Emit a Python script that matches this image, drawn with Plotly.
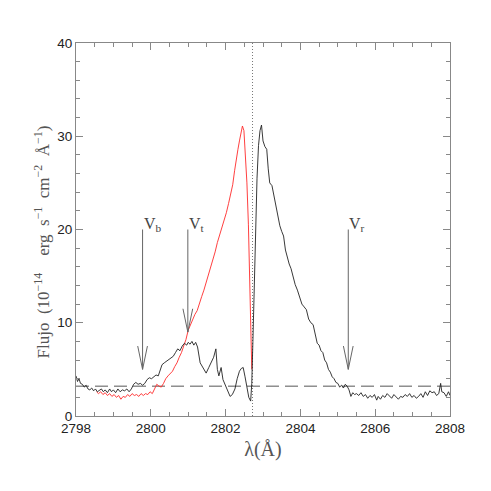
'''
    Perfil de la linea de Mg II con el ala azul reflejada (rojo)
    y las velocidades Vb, Vt, Vr marcadas con flechas.
'''
import plotly.graph_objects as go

# Espectro observado (negro)
obs_wave = [
    2798.00, 2798.04, 2798.08, 2798.12, 2798.17, 2798.22, 2798.27, 2798.32, 2798.37, 2798.42,
    2798.47, 2798.52, 2798.57, 2798.62, 2798.68, 2798.73, 2798.78, 2798.84, 2798.90, 2798.95,
    2799.00, 2799.06, 2799.12, 2799.18, 2799.24, 2799.30, 2799.36, 2799.42, 2799.48, 2799.54,
    2799.60, 2799.66, 2799.72, 2799.78, 2799.84, 2799.90, 2799.96, 2800.02, 2800.08, 2800.14,
    2800.20, 2800.26, 2800.30, 2800.36, 2800.42, 2800.48, 2800.54, 2800.60, 2800.66, 2800.72,
    2800.78, 2800.84, 2800.90, 2800.96, 2801.00, 2801.05, 2801.10, 2801.15, 2801.20, 2801.25,
    2801.32, 2801.40, 2801.48, 2801.55, 2801.62, 2801.68, 2801.74, 2801.78, 2801.82, 2801.88,
    2801.93, 2802.00, 2802.06, 2802.12, 2802.18, 2802.25, 2802.31, 2802.37, 2802.42, 2802.47,
    2802.52, 2802.57, 2802.62, 2802.67, 2802.70, 2802.73, 2802.76, 2802.80, 2802.84, 2802.88,
    2802.92, 2802.96, 2803.00, 2803.05, 2803.10, 2803.14, 2803.18, 2803.24, 2803.30, 2803.35,
    2803.40, 2803.45, 2803.50, 2803.55, 2803.60, 2803.65, 2803.70, 2803.75, 2803.80, 2803.86,
    2803.92, 2803.98, 2804.04, 2804.10, 2804.16, 2804.22, 2804.28, 2804.34, 2804.40, 2804.45,
    2804.50, 2804.55, 2804.60, 2804.65, 2804.70, 2804.75, 2804.80, 2804.85, 2804.90, 2804.95,
    2805.00, 2805.05, 2805.10, 2805.15, 2805.20, 2805.25, 2805.30, 2805.35, 2805.40, 2805.45,
    2805.50, 2805.56, 2805.62, 2805.68, 2805.74, 2805.80, 2805.86, 2805.92, 2805.98, 2806.04,
    2806.08, 2806.14, 2806.20, 2806.26, 2806.32, 2806.38, 2806.44, 2806.50, 2806.56, 2806.62,
    2806.68, 2806.74, 2806.80, 2806.86, 2806.92, 2806.98, 2807.04, 2807.10, 2807.16, 2807.22,
    2807.28, 2807.34, 2807.40, 2807.46, 2807.52, 2807.58, 2807.64, 2807.70, 2807.75, 2807.78,
    2807.84, 2807.90, 2807.96, 2808.00,
]
obs_flux = [
    4.3, 3.7, 4.0, 3.5, 3.4, 3.1, 3.3, 2.9, 2.8, 3.0,
    2.7, 2.9, 2.6, 2.7, 2.9, 2.6, 2.8, 2.5, 2.9, 2.6,
    2.8, 2.5, 2.9, 2.6, 2.8, 2.7, 2.9, 2.6, 2.9, 3.4,
    3.6, 3.4, 3.5, 3.3, 3.5, 3.9, 4.1, 4.0, 4.2, 4.4,
    4.3, 5.0, 5.5, 5.7, 5.9, 6.0, 6.3, 6.4, 6.8, 7.2,
    7.0, 7.5, 7.8, 7.6, 7.9, 7.7, 8.0, 7.6, 7.9, 7.4,
    5.7, 5.2, 4.6, 5.2, 5.9, 6.3, 7.2, 5.0, 4.3, 5.2,
    3.9, 3.2, 2.6, 2.1, 2.3, 2.9, 4.0, 4.8, 5.1, 5.2,
    4.2, 3.0, 2.0, 1.6, 3.5, 8.0, 13.0, 20.0, 25.5, 29.0,
    30.6, 31.2, 29.5, 28.9, 28.6, 26.5, 25.0, 24.7, 23.5, 22.5,
    21.3, 20.4, 19.8, 19.3, 17.8, 17.0, 16.3, 15.8, 15.0, 14.1,
    13.5, 12.8, 12.0, 11.7, 11.4, 10.4, 10.0, 9.8, 8.6, 7.8,
    7.6, 7.0, 6.8, 6.0, 5.7, 5.0, 4.7, 4.2, 4.0, 3.6,
    3.5, 3.1, 3.3, 3.0, 3.4, 3.2, 2.8, 2.1, 2.5, 2.3,
    2.4, 2.2, 2.5, 2.1, 2.3, 1.9, 2.2, 2.0, 2.3, 1.7,
    2.1, 1.8, 2.2, 2.0, 2.4, 2.1, 1.9, 2.3, 2.0, 1.8,
    2.1, 2.0, 2.3, 2.1, 2.4, 2.0, 2.2, 1.9, 2.1, 2.4,
    2.0, 2.6, 2.2, 2.7, 2.5, 2.6, 2.2, 2.4, 3.5, 2.6,
    2.5, 2.1, 2.6, 2.2,
]

# Ala azul reflejada (rojo)
refl_wave = [
    2798.55, 2798.60, 2798.66, 2798.72, 2798.78, 2798.84, 2798.90, 2798.96, 2799.02, 2799.08,
    2799.14, 2799.20, 2799.26, 2799.32, 2799.38, 2799.44, 2799.50, 2799.56, 2799.62, 2799.68,
    2799.74, 2799.80, 2799.86, 2799.92, 2799.98, 2800.04, 2800.10, 2800.16, 2800.22, 2800.28,
    2800.34, 2800.40, 2800.46, 2800.52, 2800.58, 2800.64, 2800.70, 2800.76, 2800.82, 2800.88,
    2800.94, 2801.00, 2801.06, 2801.12, 2801.18, 2801.24, 2801.30, 2801.36, 2801.42, 2801.48,
    2801.54, 2801.60, 2801.66, 2801.72, 2801.78, 2801.84, 2801.90, 2801.96, 2802.02, 2802.08,
    2802.14, 2802.19, 2802.24, 2802.28, 2802.33, 2802.37, 2802.41, 2802.45, 2802.49, 2802.53,
    2802.57, 2802.61, 2802.65, 2802.68, 2802.70,
]
refl_flux = [
    2.6, 2.4, 2.6, 2.3, 2.5, 2.2, 2.4, 2.1, 2.3, 2.0,
    2.2, 1.8, 2.1, 2.0, 2.3, 2.1, 2.4, 2.2, 2.3, 2.1,
    2.4, 2.2, 2.4, 2.3, 2.6, 2.4, 2.9, 3.4, 3.2, 3.1,
    3.5, 4.0, 4.3, 4.5, 4.8, 5.3, 5.7, 6.3, 6.8, 7.5,
    8.2, 9.2, 9.8, 10.3, 10.9, 11.3, 12.2, 12.8, 13.5, 14.3,
    15.2, 15.8, 16.6, 17.6, 18.6, 19.4, 20.1, 20.9, 21.8, 22.8,
    23.8, 24.8, 26.3, 27.5, 28.6, 29.5, 30.5, 31.1, 30.6, 28.3,
    25.0, 20.5, 14.0, 8.0, 5.0,
]

# Velocidades marcadas
arrow_names = ["V<sub>b</sub>", "V<sub>t</sub>", "V<sub>r</sub>"]
arrow_wave = [2799.78, 2800.99, 2805.28]
arrow_top = [20.0, 20.0, 20.0]
arrow_tip = [5.0, 9.0, 5.0]

continuum = 3.2      # nivel del continuo (linea de trazos)
line_center = 2802.72  # centro de la linea (linea de puntos)

x_range = [2798, 2808]
y_range = [0, 40]

SERIF = "Liberation Serif, Times New Roman, serif"
SANS = "Liberation Sans, Arial, sans-serif"
GRAY = "#666666"

fig = go.Figure()

# Continuo y centro de la linea
fig.add_trace(go.Scatter(
    x=x_range, y=[continuum, continuum], mode="lines",
    line=dict(color="#555555", width=1, dash="13px,6px"), hoverinfo="skip"))
fig.add_trace(go.Scatter(
    x=[line_center, line_center], y=y_range, mode="lines",
    line=dict(color="#777777", width=1, dash="1px,2px"), hoverinfo="skip"))

# Espectros
fig.add_trace(go.Scatter(
    x=refl_wave, y=refl_flux, mode="lines",
    line=dict(color="#ff2a2a", width=0.9)))
fig.add_trace(go.Scatter(
    x=obs_wave, y=obs_flux, mode="lines",
    line=dict(color="#222222", width=0.9)))

# Flechas con punta abierta
head_w = 0.13
head_h = 2.5
for name, xa, top, tip in zip(arrow_names, arrow_wave, arrow_top, arrow_tip):
    fig.add_trace(go.Scatter(
        x=[xa, xa, None, xa - head_w, xa, xa + head_w],
        y=[top, tip, None, tip + head_h, tip, tip + head_h],
        mode="lines", line=dict(color=GRAY, width=1), hoverinfo="skip"))
    fig.add_annotation(
        x=xa, y=top, text=name, showarrow=False,
        xanchor="left", yanchor="bottom", xshift=-1, yshift=-6,
        font=dict(family=SERIF, size=16, color="#444444"))

# Titulo del eje y como anotacion para poder centrarlo como en el original
fig.add_annotation(
    text="Flujo  (10<sup>−14</sup>    erg  s<sup>−1</sup>  cm<sup>−2</sup>  Å<sup>−1</sup>)",
    xref="paper", yref="paper", x=-0.09, y=0.466, textangle=-90,
    xanchor="center", yanchor="middle", showarrow=False,
    font=dict(family=SERIF, size=17, color="#555555"))

axis_common = dict(
    showgrid=False, zeroline=False,
    showline=True, linecolor="#888888", linewidth=1, mirror="ticks",
    ticks="inside", ticklen=7, tickcolor="#888888",
    tickfont=dict(family=SANS, size=13.5, color="#222222"),
)

# la pagina tiene 8 px de margen propio, de ahi el tamano de 475
fig.update_layout(
    width=475, height=475,
    margin=dict(l=68, r=33, t=35, b=67),
    plot_bgcolor="white", paper_bgcolor="white",
    showlegend=False,
    xaxis=dict(
        range=x_range, dtick=2, tick0=2798,
        minor=dict(dtick=0.5, ticks="inside", ticklen=4, tickcolor="#888888"),
        title=dict(text="λ(Å)", font=dict(family=SERIF, size=20, color="#555555"),
                   standoff=6),
        **axis_common),
    yaxis=dict(
        range=y_range, dtick=10,
        minor=dict(dtick=2, ticks="inside", ticklen=4, tickcolor="#888888"),
        **axis_common),
)

fig.write_html("out.html")
